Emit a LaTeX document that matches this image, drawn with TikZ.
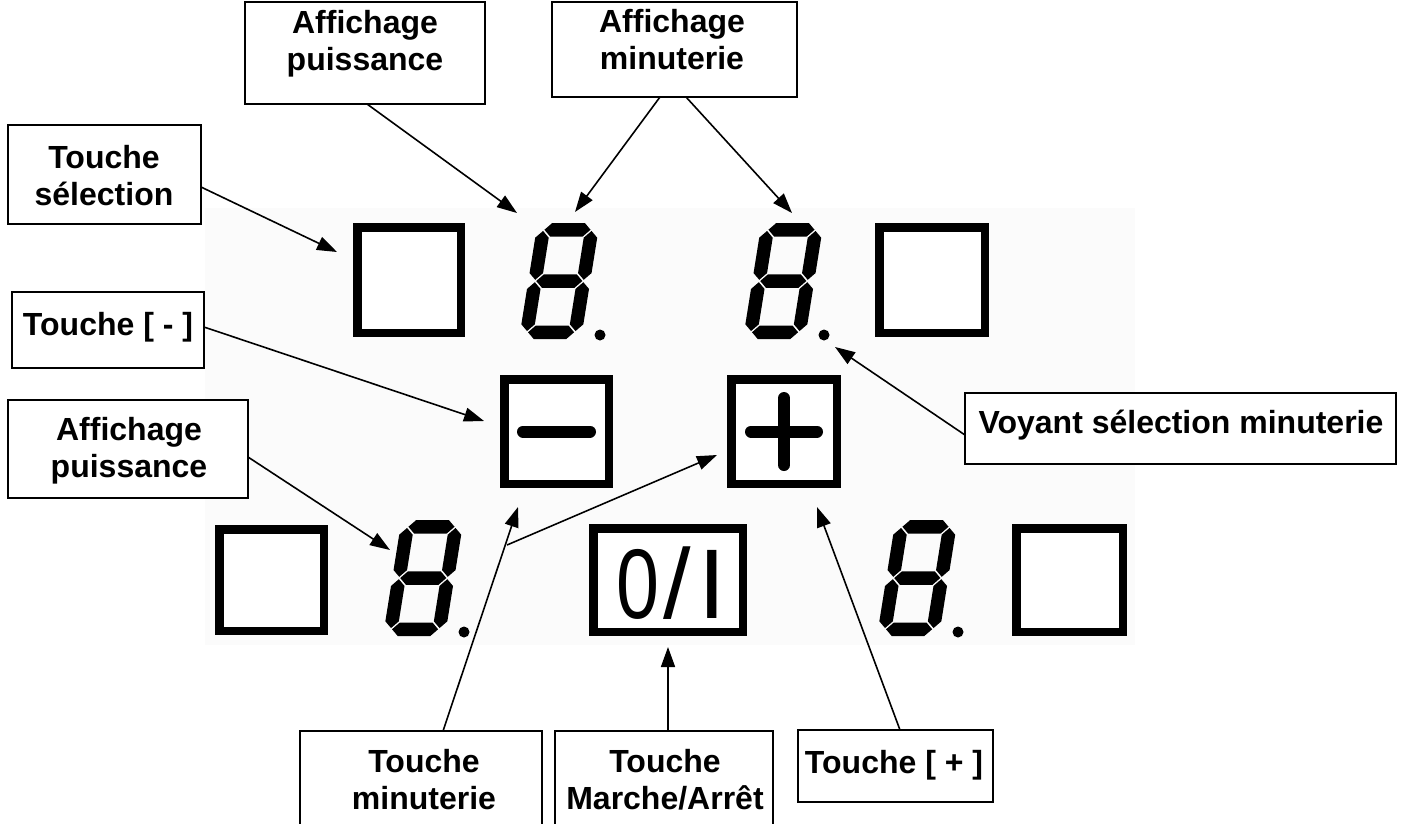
\documentclass[tikz,border=0pt]{standalone}
\usepackage{fontspec}
\setmainfont{Liberation Sans}
\usetikzlibrary{arrows.meta,calc}
\newcommand{\tl}[1]{\begin{tabular}{@{}c@{}}#1\end{tabular}}
\def\dT{13.5}\def\dW{62}\def\dH{116}\def\dG{1.2}
\newcommand{\hseg}[1]{\fill[segfill] ({\dT/2+\dG},{#1}) -- ({\dT+\dG},{#1+\dT/2}) -- ({\dW-\dT-\dG},{#1+\dT/2}) -- ({\dW-\dT/2-\dG},{#1}) -- ({\dW-\dT-\dG},{#1-\dT/2}) -- ({\dT+\dG},{#1-\dT/2}) -- cycle;}
\newcommand{\vseg}[3]{\fill[segfill] ({#1},{#2+\dG}) -- ({#1+\dT/2},{#2+\dT/2+\dG}) -- ({#1+\dT/2},{#3-\dT/2-\dG}) -- ({#1},{#3-\dG}) -- ({#1-\dT/2},{#3-\dT/2-\dG}) -- ({#1-\dT/2},{#2+\dT/2+\dG}) -- cycle;}
\newcommand{\segdigit}[3]{%
  \begin{scope}[shift={(#1,#2)}, xslant=0.16]
    \hseg{\dT/2}\hseg{\dH/2}\hseg{\dH-\dT/2}
    \vseg{\dT/2}{\dT/2}{\dH/2}\vseg{\dT/2}{\dH/2}{\dH-\dT/2}
    \vseg{\dW-\dT/2}{\dT/2}{\dH/2}\vseg{\dW-\dT/2}{\dH/2}{\dH-\dT/2}
  \end{scope}
  \node[dotnode] (#3) at ($(#1,#2)+(81,4)$) {};
}
\begin{document}
\begin{tikzpicture}[x=1pt,y=1pt,
  segfill/.style={fill=black},
  dotnode/.style={circle, fill=black, minimum size=11pt, inner sep=0pt},
  lbox/.style={draw=black, line width=1.8pt, inner sep=0pt, outer sep=0pt, fill=white, anchor=north west},
  lbl/.style={font=\fontsize{32}{37}\selectfont\bfseries, inner sep=0pt},
  keysq/.style={draw=black, line width=8.5pt, inner sep=0pt, outer sep=0pt, fill=white},
  arr/.style={line width=1.6pt, -{Triangle[length=20pt,width=14pt]}}
]
\useasboundingbox (0,0) rectangle (1405,-823);
\clip (0,0) rectangle (1405,-823);
\fill[white] (0,0) rectangle (1405,-823);
% panel
\fill[black!1.5] (205,-208) rectangle (1135,-645);

% keys
\node[keysq, minimum width=103.5pt, minimum height=105.5pt] (s1) at (409,-280) {};
\node[keysq, minimum width=105.5pt, minimum height=105.5pt] (s2) at (932,-280) {};
\node[keysq, minimum width=104.5pt, minimum height=101.5pt] (s3) at (271.5,-580) {};
\node[keysq, minimum width=106.5pt, minimum height=103.5pt] (s4) at (1069.5,-580) {};
\node[keysq, minimum width=104.5pt, minimum height=104.5pt] (kmin) at (556.5,-431.5) {};
\node[keysq, minimum width=105.5pt, minimum height=104.5pt] (kplus) at (784,-431.5) {};
\node[keysq, minimum width=149.5pt, minimum height=103.5pt] (konoff) at (668,-580) {};
\draw[line width=12pt, line cap=round] (523,-431.5) -- (590,-431.5);
\draw[line width=12pt, line cap=round] (751,-431.5) -- (817,-431.5);
\draw[line width=12pt, line cap=round] (784,-398) -- (784,-465);
\node[font=\fontsize{99}{99}\selectfont, inner sep=0pt, anchor=base west] (onofftxt) at (616,-618) {\scalebox{0.78}[1]{0}\hspace{4pt}/\hspace{8pt}I};

% digits
\segdigit{519}{-339}{dot1}
\segdigit{743}{-339}{dot2}
\segdigit{383}{-636}{dot3}
\segdigit{877}{-636}{dot4}

% label boxes
\node[lbox, minimum width=240pt, minimum height=102pt] (bA) at (245,-2) {};
\node[lbox, minimum width=245pt, minimum height=95pt] (bB) at (552,-2) {};
\node[lbox, minimum width=193pt, minimum height=99pt] (bC) at (8,-125) {};
\node[lbox, minimum width=192pt, minimum height=76pt] (bD) at (12,-292) {};
\node[lbox, minimum width=240pt, minimum height=98pt] (bE) at (8,-400) {};
\node[lbox, minimum width=431pt, minimum height=71pt] (bF) at (965,-393) {};
\node[lbox, minimum width=242pt, minimum height=110pt] (bG) at (300,-731) {};
\node[lbox, minimum width=218pt, minimum height=110pt] (bH) at (555,-731) {};
\node[lbox, minimum width=195pt, minimum height=72pt] (bI) at (798,-730) {};

% label texts
\node[lbl] (tA) at (365,-45) {\tl{Affichage\\puissance}};
\node[lbl] (tB) at (672,-44) {\tl{Affichage\\minuterie}};
\node[lbl] (tC) at (104,-180) {\tl{Touche\\sélection}};
\node[lbl] (tD) at (108,-328) {\tl{Touche [ - ]}};
\node[lbl] (tE) at (129,-452) {\tl{Affichage\\puissance}};
\node[lbl] (tF) at (1181,-426) {\tl{Voyant sélection minuterie}};
\node[lbl] (tG) at (424,-784) {\tl{Touche\\minuterie}};
\node[lbl] (tH) at (665,-784) {\tl{Touche\\Marche/Arrêt}};
\node[lbl] (tI) at (894,-766) {\tl{Touche [ + ]}};

% arrow targets
\coordinate (pA) at (517,-213);
\coordinate (pB1) at (575,-212);
\coordinate (pB2) at (792,-213);
\coordinate (pC) at (337,-252);
\coordinate (pD) at (484,-421);
\coordinate (pE) at (390,-550);
\coordinate (pF) at (835,-347);
\coordinate (pG1) at (518,-507);
\coordinate (pG2) at (717,-455);
\coordinate (pH) at (668,-647);
\coordinate (pI) at (817,-507);
\coordinate (gbranch) at (507,-545);

% connectors
\draw[arr] ([xshift=122pt]bA.south west) -- (pA);
\draw[arr] ([xshift=108pt]bB.south west) -- (pB1);
\draw[arr] ([xshift=134pt]bB.south west) -- (pB2);
\draw[arr] ([yshift=-62pt]bC.north east) -- (pC);
\draw[arr] ([yshift=-35pt]bD.north east) -- (pD);
\draw[arr] ([yshift=-57pt]bE.north east) -- (pE);
\draw[arr] ([yshift=-42pt]bF.north west) -- (pF);
\draw[arr] ([xshift=143pt]bG.north west) -- (pG1);
\draw[arr] (gbranch) -- (pG2);
\draw[arr] ([xshift=113pt]bH.north west) -- (pH);
\draw[arr] ([xshift=102pt]bI.north west) -- (pI);
\end{tikzpicture}
\end{document}
